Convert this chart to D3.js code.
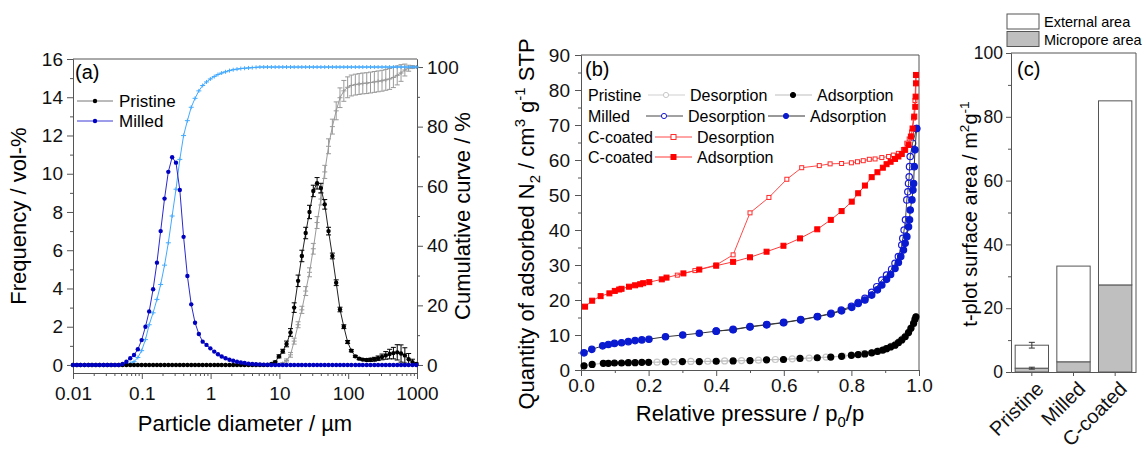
<!DOCTYPE html>
<html>
<head>
<meta charset="utf-8">
<title>PSD, N2 isotherms and t-plot areas</title>
<script src="https://cdn.jsdelivr.net/npm/d3@7"></script>
<style>
  body { margin: 0; background: #fff; }
  svg { font-family: "Liberation Sans", Arial, sans-serif; }
</style>
</head>
<body>
<svg id="chart" width="1146" height="452"></svg>
<script>
// ---------- (a) particle size distribution ----------
const sizes = [
  0.0100,0.0114,0.0129,0.0147,0.0167,0.0189,0.0215,0.0244,0.0278,0.0315,
  0.0358,0.0407,0.0463,0.0526,0.0597,0.0679,0.0771,0.0876,0.0995,0.113,
  0.128,0.146,0.166,0.188,0.214,0.243,0.276,0.314,0.357,0.405,
  0.460,0.523,0.594,0.675,0.767,0.872,0.991,1.13,1.28,1.45,
  1.65,1.88,2.13,2.42,2.75,3.12,3.55,4.03,4.58,5.21,
  5.92,6.72,7.64,8.68,9.86,11.2,12.7,14.5,16.4,18.7,
  21.2,24.1,27.4,31.1,35.3,40.1,45.6,51.8,58.9,66.9,
  76.0,86.4,98.1,111,127,144,163,186,211,240,
  272,310,352,400,454,516,586,666,756,859,
  976];
const milledFreq = [
  0,0,0,0,0,0,0,0,0,0,
  0,0,0,0.05,0.17,0.35,0.52,0.82,1.3,2.0,
  2.8,3.96,5.35,7.0,8.7,10.1,10.86,10.58,9.15,6.7,
  4.65,3.17,2.21,1.62,1.22,1.05,0.87,0.70,0.56,0.44,
  0.35,0.27,0.22,0.17,0.13,0.10,0.07,0.05,0.04,0.03,
  0.02,0.01,0,0,0,0,0,0,0,0,
  0,0,0,0,0,0,0,0,0,0,
  0,0,0,0,0,0,0,0,0,0,
  0,0,0,0,0,0,0,0,0,0,
  0];
const milledCum = [
  0,0,0,0,0,0,0,0,0,0,
  0,0,0,0,0.2,0.5,1.1,2.5,4.8,8.5,
  13.5,17.5,22,27,33.5,41,50,59,69,77,
  82,86.5,89.5,92,93.8,95,96,96.8,97.5,98,
  98.4,98.8,99.1,99.3,99.5,99.6,99.7,99.8,99.9,100,
  100,100,100,100,100,100,100,100,100,100,
  100,100,100,100,100,100,100,100,100,100,
  100,100,100,100,100,100,100,100,100,100,
  100,100,100,100,100,100,100,100,100,100,
  100];
const pristineFreq = [
  0,0,0,0,0,0,0,0,0,0,
  0,0,0,0,0,0,0,0,0,0,
  0,0,0,0,0,0,0,0,0,0,
  0,0,0,0,0,0,0,0,0,0,
  0,0,0,0,0,0,0,0,0,0,
  0,0,0.05,0.15,0.45,0.72,1.1,1.7,3.0,4.4,
  5.7,6.9,8.0,9.1,9.5,9.25,8.4,7.0,5.7,4.3,
  2.9,2.0,1.2,0.75,0.45,0.33,0.28,0.26,0.27,0.3,
  0.35,0.42,0.5,0.57,0.62,0.66,0.6,0.5,0.3,0.15,
  0.05];
const pristineFreqErr = [
  0,0,0,0,0,0,0,0,0,0,
  0,0,0,0,0,0,0,0,0,0,
  0,0,0,0,0,0,0,0,0,0,
  0,0,0,0,0,0,0,0,0,0,
  0,0,0,0,0,0,0,0,0,0,
  0,0,0,0.05,0.08,0.1,0.15,0.2,0.25,0.3,
  0.3,0.3,0.35,0.3,0.3,0.25,0.25,0.2,0.15,0.15,
  0.12,0.1,0.08,0.06,0.05,0.05,0.05,0.06,0.08,0.1,
  0.12,0.15,0.2,0.25,0.3,0.4,0.45,0.4,0.3,0.15,
  0.05];
const pristineCum = [
  0,0,0,0,0,0,0,0,0,0,
  0,0,0,0,0,0,0,0,0,0,
  0,0,0,0,0,0,0,0,0,0,
  0,0,0,0,0,0,0,0,0,0,
  0,0,0,0,0,0,0,0,0,0,
  0,0,0,0,0,0.5,1.5,3.4,8,13.5,
  18.5,24.8,31.1,39,47.8,55.7,64.8,73.4,80,85.3,
  89.7,92,93.2,93.8,94.1,94.3,94.5,94.6,94.8,95.0,
  95.2,95.4,95.7,96.0,96.5,97.2,98,99,99.6,100,
  100];
const pristineCumErr = [
  0,0,0,0,0,0,0,0,0,0,
  0,0,0,0,0,0,0,0,0,0,
  0,0,0,0,0,0,0,0,0,0,
  0,0,0,0,0,0,0,0,0,0,
  0,0,0,0,0,0,0,0,0,0,
  0,0,0,0,0,0.3,0.5,0.8,1,1,
  1.2,1.5,1.5,1.8,2,2,2.2,2.5,2.5,3,
  3.3,3.5,3.5,3.5,3.5,3.5,3.5,3.5,3.5,3.5,
  3.5,3.5,3.5,3.5,3.4,3.2,2.8,2,1,0.5,
  0];
const decadeTicks = [0.01, 0.1, 1, 10, 100, 1000];
const freqTicks = [0, 2, 4, 6, 8, 10, 12, 14, 16];
const cumTicks = [0, 20, 40, 60, 80, 100];

// ---------- (b) N2 isotherms [p/p0, V] ----------
const pristineAds = [[0.009,1.2],[0.033,1.6],[0.066,1.9],[0.081,1.9],[0.099,2.0],[0.12,2.0],[0.14,2.1],[0.16,2.1],[0.18,2.2],[0.2,2.2],[0.25,2.3],[0.3,2.4],[0.35,2.4],[0.4,2.5],[0.45,2.6],[0.5,2.7],[0.549,2.9],[0.599,3.0],[0.648,3.3],[0.699,3.5],[0.739,3.7],[0.771,3.9],[0.8,4.2],[0.82,4.4],[0.84,4.6],[0.86,4.9],[0.877,5.3],[0.893,5.7],[0.904,6.1],[0.916,6.6],[0.929,7.1],[0.939,7.8],[0.949,8.6],[0.959,9.5],[0.969,10.7],[0.976,11.9],[0.984,13.3],[0.988,14.5],[0.991,15.2]];
const pristineDes = [[0.991,15.2],[0.985,13.6],[0.978,12.2],[0.97,10.9],[0.962,9.9],[0.952,9.0],[0.942,8.2],[0.932,7.5],[0.918,6.8],[0.902,6.1],[0.882,5.5],[0.862,5.0],[0.832,4.6],[0.8,4.3],[0.775,4.0],[0.725,3.7],[0.675,3.4],[0.625,3.2],[0.575,3.0],[0.525,2.8],[0.475,2.7],[0.425,2.6],[0.375,2.5],[0.325,2.45],[0.275,2.35],[0.225,2.25]];
const milledAds = [[0.009,4.9],[0.032,5.9],[0.064,6.9],[0.081,7.3],[0.099,7.6],[0.12,7.8],[0.14,8.1],[0.16,8.4],[0.18,8.6],[0.201,8.8],[0.25,9.5],[0.301,10],[0.35,10.5],[0.4,11.1],[0.45,11.5],[0.5,12.3],[0.549,12.9],[0.599,13.5],[0.65,14.3],[0.699,15.2],[0.739,16],[0.771,16.9],[0.801,17.9],[0.82,19],[0.84,20],[0.86,21.4],[0.877,22.9],[0.89,24.3],[0.904,25.9],[0.916,27.3],[0.929,29],[0.939,30.7],[0.946,32.4],[0.954,34.3],[0.959,36.2],[0.964,38.1],[0.969,40.9],[0.972,42.9],[0.974,45.7],[0.979,48.6],[0.982,51.4],[0.984,53.3],[0.986,58.1],[0.988,62.9],[0.993,69]];
const milledDes = [[0.993,69],[0.981,64.8],[0.974,61],[0.972,58.1],[0.971,55.2],[0.969,53.3],[0.967,50.9],[0.964,48.6],[0.96,42.9],[0.956,40],[0.952,37.6],[0.949,35.7],[0.939,32.4],[0.929,30.5],[0.919,28.8],[0.904,27.1],[0.89,25.7],[0.875,23.8],[0.86,22.2],[0.84,20.5],[0.82,19.3],[0.8,18.2],[0.77,17.1],[0.74,16.2],[0.7,15.3],[0.65,14.4],[0.6,13.6],[0.55,13],[0.5,12.4],[0.45,11.6],[0.4,11.1]];
const coatedAds = [[0.012,18.1],[0.033,19.8],[0.058,21.1],[0.084,21.9],[0.1,22.6],[0.113,23.0],[0.12,23.2],[0.142,23.8],[0.16,24.2],[0.175,24.5],[0.184,24.8],[0.202,25.1],[0.239,25.9],[0.253,26.4],[0.303,27.6],[0.35,28.7],[0.4,29.8],[0.45,30.9],[0.5,32.2],[0.549,33.8],[0.599,35.5],[0.648,37.6],[0.699,40.2],[0.739,42.9],[0.771,45.4],[0.801,48.1],[0.82,50.5],[0.84,52.7],[0.86,55.1],[0.877,56.5],[0.893,57.8],[0.904,58.8],[0.916,59.5],[0.929,60.3],[0.939,61],[0.949,61.7],[0.959,62.9],[0.969,64.3],[0.976,66.7],[0.981,69],[0.986,72.4],[0.989,75.2],[0.99,78.1],[0.991,81.9],[0.991,84.3]];
const coatedDes = [[0.991,84.3],[0.988,77],[0.984,72],[0.978,68],[0.971,66],[0.964,64.8],[0.954,63],[0.939,61.9],[0.924,61.4],[0.91,61],[0.89,60.7],[0.87,60.3],[0.853,60.2],[0.835,59.8],[0.818,59.5],[0.8,59.2],[0.771,59],[0.737,58.9],[0.705,58.4],[0.653,57.8],[0.609,54.5],[0.556,49.3],[0.5,44.9],[0.45,32.9],[0.4,30],[0.337,28.4],[0.285,27.1]];
const pressureTicks = [0, 0.2, 0.4, 0.6, 0.8, 1.0];
const quantityTicks = [0, 10, 20, 30, 40, 50, 60, 70, 80, 90];

// ---------- (c) t-plot surface areas ----------
const samples = ["Pristine", "Milled", "C-coated"];
const microporeArea = [1.2, 3.2, 27.3];
const externalArea = [7.2, 30.0, 57.7];
const totalErr = [0.9, 0, 0];
const microErr = [0.3, 0, 0];
const areaTicks = [0, 20, 40, 60, 80, 100];

const svg = d3.select("#chart");
const FONT = "Liberation Sans, Arial, sans-serif";
const AXIS = "#555";

function styleAxis(g, size) {
  g.attr("font-family", FONT).attr("font-size", size);
  g.selectAll("path, line").attr("stroke", AXIS);
  g.selectAll("text").attr("fill", "#111");
  return g;
}

// text with sub / superscripts
function richText(sel, parts, size) {
  let off = 0;
  parts.forEach(p => {
    const target = p.s === "sup" ? -0.42 * size : p.s === "sub" ? 0.28 * size : 0;
    const ts = sel.append("tspan").text(p.t).attr("dy", target - off);
    if (p.s) ts.attr("font-size", size * 0.68);
    off = target;
  });
}

// ================= panel (a) =================
const xA = d3.scaleLog().domain([0.01, 1000]).range([73, 417]);
const yA = d3.scaleLinear().domain([-0.42, 16]).range([373, 59]);
const yA2 = d3.scaleLinear().domain([-2.7, 102.7]).range([373, 59]);
const gA = svg.append("g");

const minorLog = [];
decadeTicks.slice(0, -1).forEach(d => { for (let k = 2; k < 10; k++) minorLog.push(d * k); });

gA.append("line").attr("x1", 73).attr("x2", 417).attr("y1", 59).attr("y2", 59).attr("stroke", AXIS);
styleAxis(gA.append("g").attr("transform", "translate(0,373)")
  .call(d3.axisBottom(xA).tickValues(decadeTicks).tickFormat(d3.format("~g")).tickSize(6).tickSizeOuter(0).tickPadding(8)), 19);
styleAxis(gA.append("g").attr("transform", "translate(0,373)")
  .call(d3.axisBottom(xA).tickValues(minorLog).tickFormat("").tickSize(3).tickSizeOuter(0)), 19);
styleAxis(gA.append("g").attr("transform", "translate(73,0)")
  .call(d3.axisLeft(yA).tickValues(freqTicks).tickSize(6).tickSizeOuter(0).tickPadding(4)), 19);
styleAxis(gA.append("g").attr("transform", "translate(73,0)")
  .call(d3.axisLeft(yA).tickValues(freqTicks.slice(0, -1).map(v => v + 1)).tickFormat("").tickSize(3).tickSizeOuter(0)), 19);
styleAxis(gA.append("g").attr("transform", "translate(417,0)")
  .call(d3.axisRight(yA2).tickValues(cumTicks).tickSize(6).tickSizeOuter(0).tickPadding(4)), 19);
styleAxis(gA.append("g").attr("transform", "translate(417,0)")
  .call(d3.axisRight(yA2).tickValues(cumTicks.slice(0, -1).map(v => v + 10)).tickFormat("").tickSize(3).tickSizeOuter(0)), 19);

function drawPsd(values, errs, yScale, color, markerColor, kind) {
  const g = gA.append("g");
  const line = d3.line().x((d, i) => xA(sizes[i])).y(d => yScale(d));
  g.append("path").attr("d", line(values)).attr("fill", "none").attr("stroke", color).attr("stroke-width", 1);
  if (errs) {
    values.forEach((v, i) => {
      if (!errs[i]) return;
      const x = xA(sizes[i]), y1 = yScale(v - errs[i]), y2 = yScale(v + errs[i]);
      g.append("line").attr("x1", x).attr("x2", x).attr("y1", y1).attr("y2", y2).attr("stroke", markerColor);
      [y1, y2].forEach(y => g.append("line").attr("x1", x - 2.5).attr("x2", x + 2.5).attr("y1", y).attr("y2", y).attr("stroke", markerColor));
    });
  }
  g.selectAll(null).data(values).join(kind === "dot" ? "circle" : "path")
    .each(function (d, i) {
      const x = xA(sizes[i]), y = yScale(d);
      if (kind === "dot") d3.select(this).attr("cx", x).attr("cy", y).attr("r", 2.2).attr("fill", markerColor);
      else d3.select(this).attr("d", `M${x - 2.5},${y}H${x + 2.5}M${x},${y - 2}V${y + 2}`).attr("stroke", markerColor).attr("fill", "none");
    });
}
drawPsd(pristineCum, pristineCumErr, yA2, "#9a9a9a", "#9a9a9a", "plus");
drawPsd(milledCum, null, yA2, "#44aaff", "#44aaff", "plus");
drawPsd(pristineFreq, pristineFreqErr, yA, "#222", "#000", "dot");
drawPsd(milledFreq, null, yA, "#2a2ad0", "#0000c0", "dot");

gA.append("text").attr("x", 75).attr("y", 79).attr("font-size", 20).text("(a)");
const legendA = [{ name: "Pristine", line: "#777", dot: "#000" }, { name: "Milled", line: "#3a3ad8", dot: "#0000c0" }];
legendA.forEach((d, i) => {
  const y = 101 + i * 20;
  gA.append("line").attr("x1", 77).attr("x2", 113).attr("y1", y).attr("y2", y).attr("stroke", d.line);
  gA.append("circle").attr("cx", 95).attr("cy", y).attr("r", 2.2).attr("fill", d.dot);
  gA.append("text").attr("x", 119).attr("y", y + 6).attr("font-size", 17).text(d.name);
});
gA.append("text").attr("transform", "translate(26,216) rotate(-90)").attr("text-anchor", "middle")
  .attr("font-size", 22).text("Frequency / vol-%");
gA.append("text").attr("transform", "translate(470,216) rotate(-90)").attr("text-anchor", "middle")
  .attr("font-size", 22).text("Cumulative curve / %");
gA.append("text").attr("x", 245).attr("y", 431).attr("text-anchor", "middle")
  .attr("font-size", 22).text("Particle diameter / µm");

// ================= panel (b) =================
const xB = d3.scaleLinear().domain([0, 1]).range([581, 919]);
const yB = d3.scaleLinear().domain([0, 90]).range([370, 55]);
const gB = svg.append("g");

gB.append("line").attr("x1", 581).attr("x2", 919).attr("y1", 55).attr("y2", 55).attr("stroke", AXIS);
gB.append("line").attr("x1", 919).attr("x2", 919).attr("y1", 55).attr("y2", 370).attr("stroke", AXIS);
styleAxis(gB.append("g").attr("transform", "translate(0,370)")
  .call(d3.axisBottom(xB).tickValues(pressureTicks).tickFormat(d3.format(".1f")).tickSize(6).tickSizeOuter(0).tickPadding(3)), 19);
styleAxis(gB.append("g").attr("transform", "translate(0,370)")
  .call(d3.axisBottom(xB).tickValues(pressureTicks.slice(0, -1).map(v => v + 0.1)).tickFormat("").tickSize(3).tickSizeOuter(0)), 19);
styleAxis(gB.append("g").attr("transform", "translate(581,0)")
  .call(d3.axisLeft(yB).tickValues(quantityTicks).tickSize(6).tickSizeOuter(0).tickPadding(5)), 19);
styleAxis(gB.append("g").attr("transform", "translate(581,0)")
  .call(d3.axisLeft(yB).tickValues(quantityTicks.slice(0, -1).map(v => v + 5)).tickFormat("").tickSize(3).tickSizeOuter(0)), 19);

const isoLine = d3.line().x(d => xB(d[0])).y(d => yB(d[1]));
function drawIso(data, lineColor, shape, fill, stroke, size) {
  const g = gB.append("g");
  g.append("path").attr("d", isoLine(data)).attr("fill", "none").attr("stroke", lineColor).attr("stroke-width", 1);
  if (shape === "circle") {
    g.selectAll(null).data(data).join("circle")
      .attr("cx", d => xB(d[0])).attr("cy", d => yB(d[1])).attr("r", size)
      .attr("fill", fill).attr("stroke", stroke).attr("stroke-width", 1.2);
  } else {
    g.selectAll(null).data(data).join("rect")
      .attr("x", d => xB(d[0]) - size).attr("y", d => yB(d[1]) - size)
      .attr("width", size * 2).attr("height", size * 2)
      .attr("fill", fill).attr("stroke", stroke).attr("stroke-width", 1);
  }
}
drawIso(pristineDes, "#cfcfcf", "circle", "none", "#c8c8c8", 3);
drawIso(pristineAds, "#bdbdbd", "circle", "#000", "#000", 3);
drawIso(milledDes, "#444", "circle", "none", "#1c1cd8", 3.2);
drawIso(milledAds, "#333", "circle", "#0a1ad0", "#0a1ad0", 3.2);
drawIso(coatedDes, "#ff4a4a", "square", "#fff", "#ff2a2a", 2);
drawIso(coatedAds, "#ff3a3a", "square", "#f00", "#f00", 2.5);

gB.append("text").attr("x", 585).attr("y", 76).attr("font-size", 20).text("(b)");
const legendB = [
  { label: "Pristine", y: 101, items: [
    { x1: 648, name: "Desorption", line: "#cfcfcf", shape: "circle", fill: "#fff", stroke: "#c8c8c8" },
    { x1: 775, name: "Adsorption", line: "#bdbdbd", shape: "circle", fill: "#000", stroke: "#000" }] },
  { label: "Milled", y: 122, items: [
    { x1: 646, name: "Desorption", line: "#444", shape: "circle", fill: "#fff", stroke: "#1c1cd8" },
    { x1: 768, name: "Adsorption", line: "#333", shape: "circle", fill: "#0a1ad0", stroke: "#0a1ad0" }] },
  { label: "C-coated", y: 143, items: [
    { x1: 655, name: "Desorption", line: "#ff4a4a", shape: "square", fill: "#fff", stroke: "#ff2a2a" }] },
  { label: "C-coated", y: 163, items: [
    { x1: 655, name: "Adsorption", line: "#ff3a3a", shape: "square", fill: "#f00", stroke: "#f00" }] }
];
legendB.forEach(row => {
  const cy = row.y - 6;
  gB.append("text").attr("x", 588).attr("y", row.y).attr("font-size", 16).text(row.label);
  row.items.forEach(it => {
    gB.append("line").attr("x1", it.x1).attr("x2", it.x1 + 37).attr("y1", cy).attr("y2", cy).attr("stroke", it.line);
    if (it.shape === "circle") gB.append("circle").attr("cx", it.x1 + 18).attr("cy", cy).attr("r", 2.6)
      .attr("fill", it.fill).attr("stroke", it.stroke);
    else gB.append("rect").attr("x", it.x1 + 16).attr("y", cy - 2.5).attr("width", 5).attr("height", 5)
      .attr("fill", it.fill).attr("stroke", it.stroke);
    gB.append("text").attr("x", it.x1 + 42).attr("y", row.y).attr("font-size", 16).text(it.name);
  });
});

const titleBY = gB.append("text").attr("transform", "translate(534,224) rotate(-90)")
  .attr("text-anchor", "middle").attr("font-size", 22);
richText(titleBY, [{ t: "Quantity of adsorbed N" }, { t: "2", s: "sub" }, { t: " / cm" }, { t: "3", s: "sup" },
  { t: " g" }, { t: "-1", s: "sup" }, { t: " STP" }], 22);
const titleBX = gB.append("text").attr("x", 750).attr("y", 421).attr("text-anchor", "middle").attr("font-size", 22);
richText(titleBX, [{ t: "Relative pressure / p" }, { t: "0", s: "sub" }, { t: "/p" }], 22);

// ================= panel (c) =================
const xC = d3.scaleBand().domain(samples).range([1011, 1136]).paddingInner(0.2).paddingOuter(0.1);
const yC = d3.scaleLinear().domain([0, 100]).range([372, 53]);
const gC = svg.append("g");

gC.append("line").attr("x1", 1011).attr("x2", 1136).attr("y1", 53).attr("y2", 53).attr("stroke", AXIS);
gC.append("line").attr("x1", 1136).attr("x2", 1136).attr("y1", 53).attr("y2", 372).attr("stroke", AXIS);

const bars = samples.map((s, i) => ({ s, micro: microporeArea[i], ext: externalArea[i], te: totalErr[i], me: microErr[i] }));
gC.selectAll(".micro").data(bars).join("rect").attr("class", "micro")
  .attr("x", d => xC(d.s)).attr("width", xC.bandwidth())
  .attr("y", d => yC(d.micro)).attr("height", d => yC(0) - yC(d.micro))
  .attr("fill", "#bfbfbf").attr("stroke", AXIS);
gC.selectAll(".ext").data(bars).join("rect").attr("class", "ext")
  .attr("x", d => xC(d.s)).attr("width", xC.bandwidth())
  .attr("y", d => yC(d.micro + d.ext)).attr("height", d => yC(d.micro) - yC(d.micro + d.ext))
  .attr("fill", "#fff").attr("stroke", AXIS);
bars.forEach(d => {
  const cx = xC(d.s) + xC.bandwidth() / 2;
  [[d.micro + d.ext, d.te], [d.micro, d.me]].forEach(([v, e]) => {
    if (!e) return;
    const y1 = yC(v - e), y2 = yC(v + e);
    gC.append("line").attr("x1", cx).attr("x2", cx).attr("y1", y1).attr("y2", y2).attr("stroke", "#333");
    [y1, y2].forEach(y => gC.append("line").attr("x1", cx - 3).attr("x2", cx + 3).attr("y1", y).attr("y2", y).attr("stroke", "#333"));
  });
});

styleAxis(gC.append("g").attr("transform", "translate(1011,0)")
  .call(d3.axisLeft(yC).tickValues(areaTicks).tickSize(5).tickSizeOuter(0).tickPadding(3)), 17.5);
styleAxis(gC.append("g").attr("transform", "translate(1011,0)")
  .call(d3.axisLeft(yC).tickValues(areaTicks.slice(0, -1).map(v => v + 10)).tickFormat("").tickSize(3).tickSizeOuter(0)), 17.5);
const axC = styleAxis(gC.append("g").attr("transform", "translate(0,372)")
  .call(d3.axisBottom(xC).tickSize(4).tickSizeOuter(0)), 20);
axC.selectAll("text").attr("text-anchor", "end").attr("transform", "translate(3,8) rotate(-45)")
  .attr("dy", "0.71em").attr("y", 0);

gC.append("text").attr("x", 1017).attr("y", 76).attr("font-size", 20).text("(c)");
const legendC = [{ name: "External area", fill: "#fff" }, { name: "Micropore area", fill: "#bfbfbf" }];
legendC.forEach((d, i) => {
  const y = 14 + i * 17.5;
  gC.append("rect").attr("x", 1007).attr("y", y).attr("width", 32).attr("height", 15)
    .attr("fill", d.fill).attr("stroke", AXIS);
  gC.append("text").attr("x", 1044).attr("y", y + 13).attr("font-size", 14.5).text(d.name);
});
const titleC = gC.append("text").attr("transform", "translate(977,214) rotate(-90)")
  .attr("text-anchor", "middle").attr("font-size", 20);
richText(titleC, [{ t: "t-plot surface area / m" }, { t: "2", s: "sup" }, { t: "g" }, { t: "-1", s: "sup" }], 20);
</script>
</body>
</html>
